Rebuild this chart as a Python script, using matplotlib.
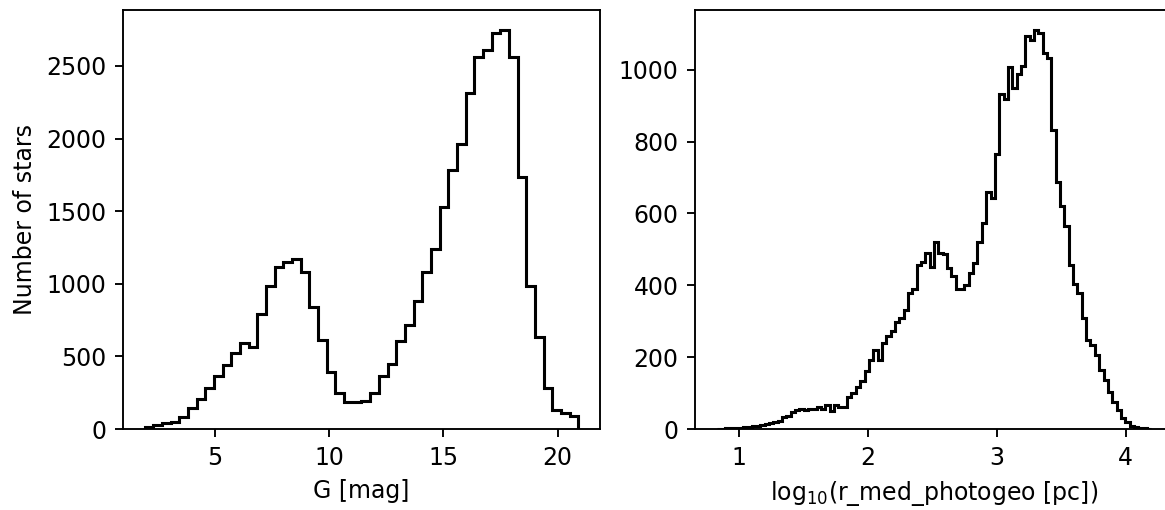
import numpy as np
import matplotlib
matplotlib.use("Agg")
import matplotlib.pyplot as plt

# G magnitude histogram (50 bins)
g_lo, g_hi = 1.94, 20.90
g_counts = [11, 25, 42, 46, 85, 142, 204, 280, 364, 440,
            520, 594, 566, 795, 983, 1116, 1150, 1173, 1082, 841,
            612, 394, 250, 186, 187, 190, 245, 364, 445, 607,
            715, 880, 1082, 1242, 1529, 1785, 1964, 2312, 2560, 2610,
            2725, 2748, 2560, 1735, 983, 635, 280, 131, 112, 89]

# log10 distance histogram (100 bins)
d_lo, d_hi = 0.827, 4.20
d_counts = [1, 1, 2, 2, 3, 4, 5, 6, 8, 9,
            11, 13, 16, 19, 22, 33, 35, 47, 52, 57,
            52, 56, 55, 60, 57, 67, 51, 67, 62, 62,
            90, 99, 116, 135, 162, 192, 220, 192, 239, 259,
            274, 299, 308, 331, 378, 389, 457, 466, 489, 452,
            522, 489, 487, 447, 425, 389, 389, 401, 434, 462,
            520, 573, 661, 643, 767, 932, 918, 1007, 949, 989,
            1012, 1095, 1082, 1111, 1102, 1046, 1032, 833, 688, 620,
            564, 456, 405, 378, 308, 247, 234, 205, 164, 136,
            102, 76, 53, 32, 20, 8, 5, 2, 2, 1]

g_edges = np.linspace(g_lo, g_hi, len(g_counts) + 1)
d_edges = np.linspace(d_lo, d_hi, len(d_counts) + 1)

fig = plt.figure(figsize=(1165 / 170, 510 / 170), dpi=170)
ax1 = fig.add_axes([0.1056, 0.1588, 0.4094, 0.8216])
ax2 = fig.add_axes([0.5966, 0.1588, 0.4103, 0.8216])

ax1.hist(g_edges[:-1], bins=g_edges, weights=g_counts, histtype="step",
         color="k", lw=1.3)
ax1.set_xlabel("G [mag]")
ax1.set_ylabel("Number of stars")

ax2.hist(d_edges[:-1], bins=d_edges, weights=d_counts, histtype="step",
         color="k", lw=1.3)
ax2.set_xlabel(r"log$_{10}$(r_med_photogeo [pc])")

fig.savefig("out.png", dpi=170)
